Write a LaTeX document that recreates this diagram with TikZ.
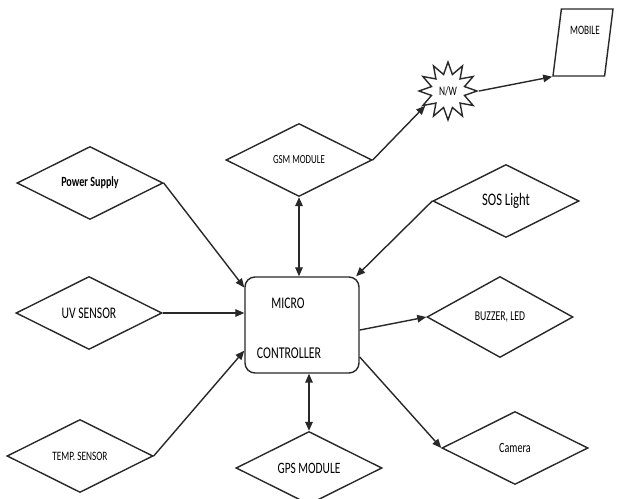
\documentclass[tikz,border=0pt]{standalone}
\usepackage{fontspec}
\usepackage{tikz}
\usetikzlibrary{arrows.meta,positioning,shapes.geometric,calc}
\newfontfamily\diagfont[FakeStretch=0.72]{Carlito}
\definecolor{lnblack}{RGB}{40,40,40}

\begin{document}
\begin{tikzpicture}[
  font=\diagfont,
  dmd/.style={draw=lnblack, diamond, aspect=2, inner sep=0pt, minimum width=2.92cm, minimum height=1.46cm, align=center, line width=0.8pt},
  ctrl/.style={draw=lnblack, rectangle, rounded corners=2mm, minimum width=2.28cm, minimum height=1.92cm, line width=0.8pt},
  >={Triangle[length=1.8mm,width=1.5mm]},
  arrline/.style={->, line width=0.8pt, lnblack},
]
\useasboundingbox (0,0) rectangle (12.34,9.98);

% ============ Micro controller box ============
\node[ctrl] (micro) at (6.04,3.48) {};
\node[font=\diagfont\fontsize{9.2}{10}\selectfont] (microtxt) at (5.76,3.92) {MICRO};
\node[font=\diagfont\fontsize{9.4}{10}\selectfont] (ctrltxt) at (5.78,2.92) {CONTROLLER};

% ============ Inputs (left) ============
\node[dmd, font=\diagfont\bfseries\fontsize{8}{9}\selectfont] (power) at (1.80,6.32) {Power Supply};
\node[dmd, font=\diagfont\fontsize{9.2}{10}\selectfont] (uv) at (1.78,3.72) {UV SENSOR};
\node[dmd, font=\diagfont\fontsize{7.3}{8}\selectfont] (temp) at (1.60,0.86) {TEMP. SENSOR};

% ============ GSM / GPS modules ============
\node[dmd, font=\diagfont\fontsize{7}{8}\selectfont] (gsm) at (5.98,6.78) {GSM MODULE};
\node[dmd, font=\diagfont\fontsize{9}{10}\selectfont] (gps) at (6.18,0.62) {GPS MODULE};

% ============ Right side ============
\node[dmd, font=\diagfont\fontsize{10}{11}\selectfont] (sos) at (10.12,5.96) {SOS Light};
\node[dmd, minimum height=1.62cm, font=\diagfont\fontsize{7.7}{8}\selectfont] (buzzer) at (10.00,3.64) {BUZZER, LED};
\node[dmd, font=\diagfont\fontsize{8}{9}\selectfont] (camera) at (10.30,1.02) {Camera};

% ============ Network and mobile ============
\node[draw=lnblack, star, star points=12, star point ratio=1.7, minimum size=1.16cm, inner sep=0pt, line width=0.8pt,
      font=\diagfont\fontsize{7.4}{8}\selectfont] (nw) at (8.96,8.16) {N/W};
\node[draw=lnblack, trapezium, trapezium left angle=79, trapezium right angle=101, trapezium stretches=true,
      minimum width=1.2cm, minimum height=1.34cm, inner sep=1pt, line width=0.8pt] (mobile) at (11.66,9.13) {};
\node[font=\diagfont\fontsize{7.3}{8}\selectfont] (mobiletxt) at (11.70,9.38) {MOBILE};

% ===================== ARROWS =====================

% sensors and supply into the controller
\draw[arrline] (power.east) -- (micro.147);
\draw[arrline] (uv.east) -- (uv.east -| micro.west);
\draw[arrline] (temp.east) -- (micro.204);

% two-way links to the modules
\draw[<->, line width=0.8pt, lnblack] (gsm.south) -- (gsm.south |- micro.north);
\draw[<->, line width=0.8pt, lnblack] (gps.north) -- (gps.north |- micro.south);

% SOS light
\draw[arrline] (sos.west) -- (micro.42);

% outputs
\draw[arrline] (micro.-5) -- (buzzer.west);
\draw[arrline] (micro.-29) -- (camera.west);

% GSM -> network -> mobile
\draw[arrline] (gsm.east) -- (nw.213);
\draw[arrline] (nw.east) -- (mobile.bottom left corner);

\end{tikzpicture}
\end{document}
